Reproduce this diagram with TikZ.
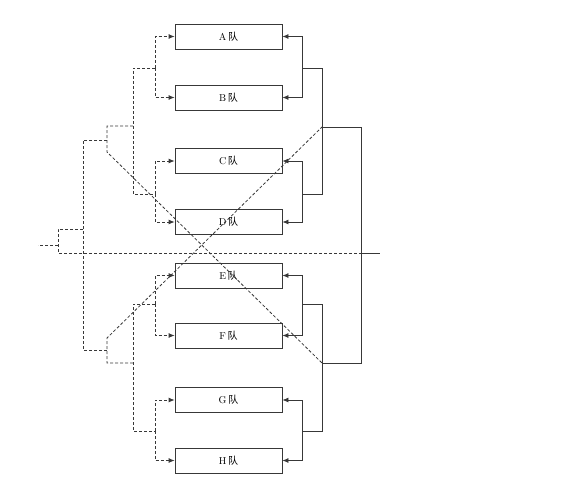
\documentclass[tikz,border=0pt]{standalone}
\usepackage{fontspec}
\newfontfamily\cjk{Noto Sans CJK SC}
\usetikzlibrary{arrows.meta}
\definecolor{ln}{HTML}{383838}
\begin{document}
\begin{tikzpicture}[x=1pt,y=-1pt,
  team/.style={draw=ln,line width=0.8pt,minimum width=107pt,minimum height=25pt,inner sep=0pt,font=\fontsize{10}{10}\selectfont},
  sol/.style={draw=ln,line width=0.8pt},
  dsh/.style={draw=ln,line width=0.8pt,dash pattern=on 3pt off 2pt},
  arr/.style={-{Latex[length=6pt,width=5pt]}}]
\useasboundingbox (0,0) rectangle (585,500);
% teams
\node[team] (A) at (228.5,36.5) {A\,{\cjk 队}};
\node[team] (B) at (228.5,97.5) {B\,{\cjk 队}};
\node[team] (C) at (228.5,161) {C\,{\cjk 队}};
\node[team] (D) at (228.5,222) {D\,{\cjk 队}};
\node[team] (E) at (228.5,275.5) {E\,{\cjk 队}};
\node[team] (F) at (228.5,335.5) {F\,{\cjk 队}};
\node[team] (G) at (228.5,400) {G\,{\cjk 队}};
\node[team] (H) at (228.5,460.5) {H\,{\cjk 队}};
% right-side coordinates
\coordinate (rAB) at (302,68);
\coordinate (rCD) at (302,194);
\coordinate (rEF) at (302,304);
\coordinate (rGH) at (302,431);
\coordinate (rABm) at (322,68);
\coordinate (rCDm) at (322,194);
\coordinate (rEFm) at (322,304);
\coordinate (rGHm) at (322,431);
\coordinate (rABCD) at (322,127);
\coordinate (rEFGH) at (322,363);
\coordinate (rtop) at (361,127);
\coordinate (rbot) at (361,363);
\coordinate (rfin) at (361,253);
\coordinate (rend) at (380,253);
% left-side coordinates
\coordinate (lAB) at (155,68);
\coordinate (lCD) at (155,194);
\coordinate (lEF) at (155,304);
\coordinate (lGH) at (155,431);
\coordinate (lAB2) at (133,68);
\coordinate (lCD2) at (133,194);
\coordinate (lEF2) at (133,304);
\coordinate (lGH2) at (133,431);
\coordinate (lABCD) at (133,126);
\coordinate (lEFGH) at (133,363);
\coordinate (lq) at (107,126);
\coordinate (lq2) at (107,140);
\coordinate (lq3) at (107,152);
\coordinate (lb) at (107,350);
\coordinate (lb2) at (107,338);
\coordinate (lb3) at (107,363);
\coordinate (lh) at (83,140);
\coordinate (lhb) at (83,350);
\coordinate (l0) at (83,229);
\coordinate (l1) at (58,229);
\coordinate (l2) at (58,253);
\coordinate (l3) at (58,245);
\coordinate (l4) at (38,245);
% right solid bracket
\draw[sol,arr] (rAB) |- (A.east);
\draw[sol,arr] (rAB) |- (B.east);
\draw[sol,arr] (rCD) |- (C.east);
\draw[sol,arr] (rCD) |- (D.east);
\draw[sol,arr] (rEF) |- (E.east);
\draw[sol,arr] (rEF) |- (F.east);
\draw[sol,arr] (rGH) |- (G.east);
\draw[sol,arr] (rGH) |- (H.east);
\draw[sol] (rAB) -- (rABm) -- (rCDm) -- (rCD);
\draw[sol] (rEF) -- (rEFm) -- (rGHm) -- (rGH);
\draw[sol] (rABCD) -- (rtop) -- (rbot) -- (rEFGH);
\draw[sol] (rfin) -- (rend);
% left dashed bracket
\draw[dsh,arr] (lAB) |- (A.west);
\draw[dsh,arr] (lAB) |- (B.west);
\draw[dsh,arr] (lCD) |- (C.west);
\draw[dsh,arr] (lCD) |- (D.west);
\draw[dsh,arr] (lEF) |- (E.west);
\draw[dsh,arr] (lEF) |- (F.west);
\draw[dsh,arr] (lGH) |- (G.west);
\draw[dsh,arr] (lGH) |- (H.west);
\draw[dsh] (lAB) -- (lAB2) -- (lCD2) -- (lCD);
\draw[dsh] (lEF) -- (lEF2) -- (lGH2) -- (lGH);
\draw[dsh] (lABCD) -- (lq) -- (lq3) -- (rEFGH);
\draw[dsh] (lEFGH) -- (lb3) -- (lb2) -- (rABCD);
\draw[dsh] (lq2) -- (lh) -- (lhb) -- (lb);
\draw[dsh] (l0) -- (l1) -- (l2) -- (rfin);
\draw[dsh] (l3) -- (l4);
\end{tikzpicture}
\end{document}
